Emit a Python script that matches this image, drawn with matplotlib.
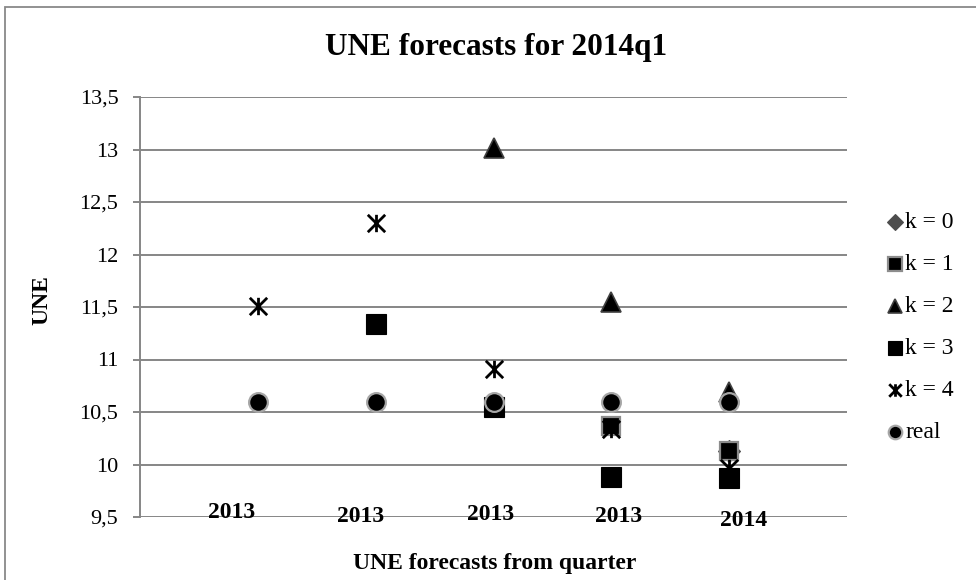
import numpy as np
import matplotlib
matplotlib.use("Agg")
import matplotlib.pyplot as plt
from matplotlib.path import Path
from matplotlib.lines import Line2D
from matplotlib.patches import Rectangle

plt.rcParams['font.family'] = ['Liberation Serif', 'DejaVu Serif']

# ---- data ----
quarters = [1, 2, 3, 4, 5]
year_labels = ["2013", "2013", "2013", "2013", "2014"]
nan = np.nan
k0 = [nan, nan, nan, nan, 10.13]
k1 = [nan, nan, nan, 10.37, 10.13]
k2 = [nan, nan, 13.01, 11.55, 10.69]
k3 = [nan, 11.34, 10.55, 9.88, 9.87]
k4 = [11.51, 12.30, 10.91, 10.34, 9.97]
real = [10.6, 10.6, 10.6, 10.6, 10.6]
series_labels = ["k = 0", "k = 1", "k = 2", "k = 3", "k = 4", "real"]
y_ticks = [9.5, 10, 10.5, 11, 11.5, 12, 12.5, 13, 13.5]

W, H = 976, 580
fig = plt.figure(figsize=(W / 100, H / 100), dpi=100)

def fx(px):
    return px / W

def fy(py):
    return 1 - py / H

# outer chart border
fig.patches.append(Rectangle((fx(5), fy(H + 10)), 1.2, fy(7) - fy(H + 10),
                             transform=fig.transFigure, fill=False,
                             edgecolor='#898989', linewidth=1.3))

left, right, top, bottom = 140, 847, 97, 517
ax = fig.add_axes([fx(left), fy(bottom), fx(right) - fx(left), fy(top) - fy(bottom)])
ax.set_xlim(0, 6)
ax.set_ylim(9.5, 13.5)
ax.set_yticks(y_ticks)
ax.set_yticklabels([f"{t:g}".replace('.', ',') for t in y_ticks], fontsize=16)
ax.set_xticks([])
for s in ['top', 'right', 'bottom']:
    ax.spines[s].set_visible(False)
ax.spines['left'].set_color('#868686')
ax.spines['left'].set_linewidth(1.4)
ax.tick_params(axis='y', length=5, width=1.4, color='#868686', pad=10.5)
ax.yaxis.grid(True, color='#868686', linewidth=1.4)
ax.set_axisbelow(True)

star = Path([(0, -1), (0, 1), (-1, -1), (1, 1), (-1, 1), (1, -1)],
            [Path.MOVETO, Path.LINETO, Path.MOVETO, Path.LINETO, Path.MOVETO, Path.LINETO])

styles = [
    dict(marker='D', markersize=11.5, markerfacecolor='#4d4d4d', markeredgecolor='#4d4d4d', markeredgewidth=0.8),
    dict(marker='s', markersize=13.5, markerfacecolor='black', markeredgecolor='#8c8c8c', markeredgewidth=1.6),
    dict(marker='^', markersize=14, markerfacecolor='black', markeredgecolor='#404040', markeredgewidth=1.2),
    dict(marker='s', markersize=14, markerfacecolor='black', markeredgecolor='black', markeredgewidth=0.8),
    dict(marker=star, markersize=12.5, markerfacecolor='none', markeredgecolor='black', markeredgewidth=2.0),
    dict(marker='o', markersize=13.5, markerfacecolor='black', markeredgecolor='#a6a6a6', markeredgewidth=1.6),
]
data = [k0, k1, k2, k3, k4, real]
for vals, st in zip(data, styles):
    ax.plot(quarters, vals, linestyle='none', clip_on=False, **st)

# legend (drawn entry by entry, smaller markers)
leg_x, leg_y0, leg_dy = 895, 222, 42
for i, (lab, st) in enumerate(zip(series_labels, styles)):
    st2 = dict(st)
    st2['markersize'] = st['markersize'] * 0.72
    yy = leg_y0 + i * leg_dy
    fig.add_artist(Line2D([fx(leg_x)], [fy(yy)], transform=fig.transFigure,
                          linestyle='none', **st2))
    fig.text(fx(leg_x + 10), fy(yy), lab, ha='left', va='center', fontsize=17)

# category (year) labels
label_pos = [(232, 513), (361, 517), (491, 515), (619, 517), (744, 520)]
for lab, (px, py) in zip(year_labels, label_pos):
    fig.text(fx(px), fy(py), lab, ha='center', va='center', fontsize=17, fontweight='bold')

fig.text(fx(496), fy(47), "UNE forecasts for 2014q1", ha='center', va='center',
         fontsize=22.5, fontweight='bold')
fig.text(fx(495), fy(563), "UNE forecasts from quarter", ha='center', va='center',
         fontsize=17, fontweight='bold')
fig.text(fx(42), fy(300), "UNE", ha='center', va='center', rotation=90,
         fontsize=17, fontweight='bold')

fig.savefig("out.png", dpi=100)
